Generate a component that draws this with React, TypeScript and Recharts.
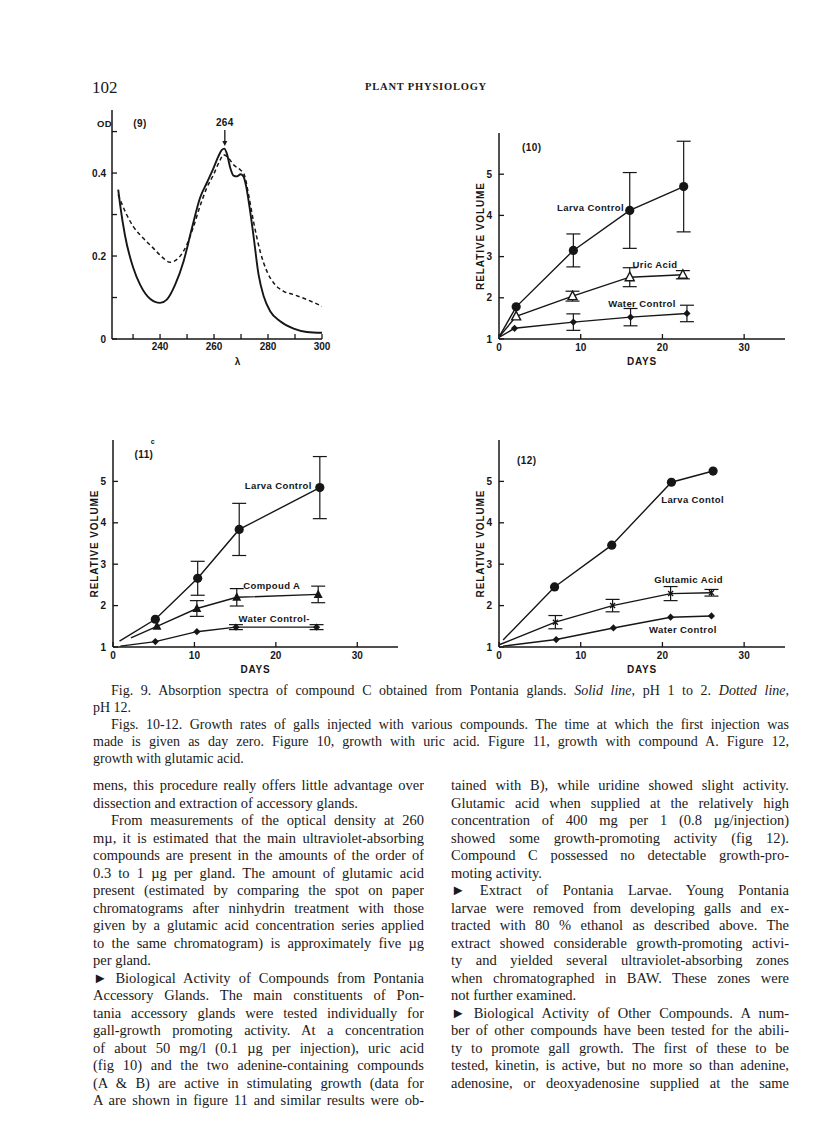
import React from "react";
import { LineChart, Line, XAxis, YAxis, ErrorBar, ReferenceDot, Label } from "recharts";

const INK = "#161616";
const SANS = "'Liberation Sans', Arial, sans-serif";
const SERIF = "'Liberation Serif', 'Times New Roman', serif";

// ---- Fig. 9: absorption spectra (wavelength, optical density)
const lambdaSolid = [224.5, 225.2, 227, 230.1, 232.6, 236.3, 240, 242.5, 245.6, 248.7, 251.8, 254.8, 257.3, 259.8, 261.6, 262.9, 263.8, 264.7, 266, 267.2, 268.5, 269.9, 270.9, 271.9, 273.2, 274.6, 276.5, 278.4, 280.8, 284.5, 289.5, 294.4, 300];
const odSolid = [0.36, 0.324, 0.25, 0.171, 0.131, 0.097, 0.087, 0.095, 0.131, 0.187, 0.267, 0.34, 0.376, 0.412, 0.44, 0.456, 0.459, 0.448, 0.413, 0.394, 0.392, 0.397, 0.392, 0.368, 0.316, 0.25, 0.155, 0.103, 0.067, 0.043, 0.025, 0.017, 0.015];
const lambdaDotted = [224.5, 227.6, 230.1, 233.8, 237.5, 241.2, 243.7, 246.8, 249.9, 252.4, 254.8, 257.3, 259.8, 262.3, 263.5, 265.4, 267.2, 269.7, 271.2, 272.8, 274.6, 277.1, 279.6, 282.1, 285.8, 289.5, 294.4, 300];
const odDotted = [0.348, 0.3, 0.271, 0.243, 0.219, 0.195, 0.185, 0.195, 0.227, 0.271, 0.32, 0.364, 0.396, 0.432, 0.444, 0.436, 0.42, 0.408, 0.396, 0.348, 0.284, 0.211, 0.163, 0.135, 0.115, 0.107, 0.095, 0.079];
const lambdaTicks = [230, 240, 250, 260, 270, 280, 290, 300];
const odTicks = [0, 0.1, 0.2, 0.3, 0.4, 0.5];
const peakLambda = 264;

// ---- Fig. 10: uric acid
const f10LarvaDays = [0.1, 2.1, 9.1, 16.0, 22.6];
const f10LarvaVol = [1.08, 1.78, 3.15, 4.12, 4.7];
const f10LarvaErr = [null, null, 0.4, 0.92, 1.1];
const f10UricDays = [0.1, 2.1, 9.0, 16.0, 22.5];
const f10UricVol = [1.07, 1.55, 2.04, 2.5, 2.56];
const f10UricErr = [null, null, 0.12, 0.23, 0.1];
const f10WaterDays = [0.1, 1.9, 9.1, 16.1, 23.0];
const f10WaterVol = [1.05, 1.26, 1.41, 1.53, 1.62];
const f10WaterErr = [null, null, 0.2, 0.21, 0.2];

// ---- Fig. 11: compound A
const f11LarvaDays = [0.8, 5.2, 10.4, 15.5, 25.4];
const f11LarvaVol = [1.14, 1.67, 2.66, 3.84, 4.85];
const f11LarvaErr = [null, null, 0.41, 0.63, 0.75];
const f11CompDays = [2.2, 5.4, 10.3, 15.2, 25.2];
const f11CompVol = [1.22, 1.5, 1.93, 2.2, 2.27];
const f11CompErr = [null, null, 0.19, 0.21, 0.2];
const f11WaterDays = [0.9, 5.2, 10.3, 15.1, 25.0];
const f11WaterVol = [1.02, 1.13, 1.37, 1.48, 1.48];
const f11WaterErr = [null, null, null, 0.06, 0.06];

// ---- Fig. 12: glutamic acid
const f12LarvaDays = [0.5, 6.8, 13.8, 21.1, 26.2];
const f12LarvaVol = [1.17, 2.45, 3.46, 4.98, 5.25];
const f12GlutDays = [0.1, 6.9, 13.9, 21.0, 26.0];
const f12GlutVol = [1.06, 1.6, 2.0, 2.29, 2.31];
const f12GlutErr = [null, 0.16, 0.15, 0.17, 0.08];
const f12WaterDays = [0.5, 7.0, 14.0, 21.0, 26.0];
const f12WaterVol = [1.02, 1.18, 1.46, 1.72, 1.75];

const dayTicks = [0, 10, 20, 30];
const volTicks = [1, 2, 3, 4, 5];

// ---- page text
const captionLines = [
  "pH 12.",
  "Figs. 10-12. Growth rates of galls injected with various compounds. The time at which the first injection was",
  "made is given as day zero. Figure 10, growth with uric acid. Figure 11, growth with compound A. Figure 12,",
  "growth with glutamic acid.",
];

// k: "j" justified, "e" end of paragraph, "p" indented paragraph start
const leftLines = [
  { t: "mens, this procedure really offers little advantage over", k: "j" },
  { t: "dissection and extraction of accessory glands.", k: "e" },
  { t: "From measurements of the optical density at 260", k: "p" },
  { t: "m\u00b5, it is estimated that the main ultraviolet-absorbing", k: "j" },
  { t: "compounds are present in the amounts of the order of", k: "j" },
  { t: "0.3 to 1 \u00b5g per gland.  The amount of glutamic acid", k: "j" },
  { t: "present (estimated by comparing the spot on paper", k: "j" },
  { t: "chromatograms after ninhydrin treatment with those", k: "j" },
  { t: "given by a glutamic acid concentration series applied", k: "j" },
  { t: "to the same chromatogram) is approximately five \u00b5g", k: "j" },
  { t: "per gland.", k: "e" },
  { t: "\u25ba Biological Activity of Compounds from Pontania", k: "j" },
  { t: "Accessory Glands.  The main constituents of Pon-", k: "j" },
  { t: "tania accessory glands were tested individually for", k: "j" },
  { t: "gall-growth promoting activity.  At a concentration", k: "j" },
  { t: "of about 50 mg/l (0.1 \u00b5g per injection), uric acid", k: "j" },
  { t: "(fig 10) and the two adenine-containing compounds", k: "j" },
  { t: "(A & B) are active in stimulating growth (data for", k: "j" },
  { t: "A are shown in figure 11 and similar results were ob-", k: "j" },
];

const rightLines = [
  { t: "tained with B), while uridine showed slight activity.", k: "j" },
  { t: "Glutamic acid when supplied at the relatively high", k: "j" },
  { t: "concentration of 400 mg per 1 (0.8 \u00b5g/injection)", k: "j" },
  { t: "showed some growth-promoting activity (fig 12).", k: "j" },
  { t: "Compound C possessed no detectable growth-pro-", k: "j" },
  { t: "moting activity.", k: "e" },
  { t: "\u25ba Extract of Pontania Larvae.  Young Pontania", k: "j" },
  { t: "larvae were removed from developing galls and ex-", k: "j" },
  { t: "tracted with 80 % ethanol as described above.  The", k: "j" },
  { t: "extract showed considerable growth-promoting activi-", k: "j" },
  { t: "ty and yielded several ultraviolet-absorbing zones", k: "j" },
  { t: "when chromatographed in BAW.  These zones were", k: "j" },
  { t: "not further examined.", k: "e" },
  { t: "\u25ba Biological Activity of Other Compounds.  A num-", k: "j" },
  { t: "ber of other compounds have been tested for the abili-", k: "j" },
  { t: "ty to promote gall growth.  The first of these to be", k: "j" },
  { t: "tested, kinetin, is active, but no more so than adenine,", k: "j" },
  { t: "adenosine, or deoxyadenosine supplied at the same", k: "j" },
];

type Pt = { x: number; y: number; e: number | null };
const rows = (xs: number[], ys: number[], es?: (number | null)[]): Pt[] =>
  xs.map((x, i) => ({ x, y: ys[i], e: es ? es[i] : null }));

type Shape = "disc" | "tri" | "triFill" | "diamond" | "cross";
type Rect = { l: number; t: number; w: number; h: number };
type Plot = { l: number; t: number; r: number; b: number };

const YW = 40;
const XH = 30;
const marginOf = (w: Rect, p: Plot) => ({
  left: p.l - w.l - YW,
  top: p.t - w.t,
  right: w.l + w.w - p.r,
  bottom: w.t + w.h - p.b - XH,
});

const drawMarker = (shape: Shape, cx: number, cy: number, key: string) => {
  switch (shape) {
    case "disc":
      return <circle key={key} cx={cx} cy={cy} r={4.6} fill={INK} />;
    case "tri":
      return (
        <path key={key} d={`M${cx},${cy - 5}L${cx + 4.5},${cy + 3.5}L${cx - 4.5},${cy + 3.5}Z`}
          fill="#fff" stroke={INK} strokeWidth={1.4} />
      );
    case "triFill":
      return <path key={key} d={`M${cx},${cy - 5}L${cx + 4.5},${cy + 3.5}L${cx - 4.5},${cy + 3.5}Z`} fill={INK} />;
    case "diamond":
      return <path key={key} d={`M${cx},${cy - 3.6}L${cx + 3.6},${cy}L${cx},${cy + 3.6}L${cx - 3.6},${cy}Z`} fill={INK} />;
    default:
      return (
        <path key={key} d={`M${cx - 2.5},${cy - 2.5}L${cx + 2.5},${cy + 2.5}M${cx + 2.5},${cy - 2.5}L${cx - 2.5},${cy + 2.5}`}
          stroke={INK} strokeWidth={1.4} />
      );
  }
};

const dotFor = (shape: Shape) => (p: any) => {
  const key = `m-${shape}-${p.index}`;
  if (p.index === 0 || p.cx == null) return <g key={key} />;
  return drawMarker(shape, p.cx, p.cy, key);
};

const noteText = {
  fontFamily: SANS,
  fontWeight: 700,
  fill: INK,
  letterSpacing: 0.4,
} as const;

const note = (x: number, y: number, text: string, size = 9.5, anchor: "start" | "middle" | "end" = "middle") => (
  <ReferenceDot
    key={`n-${text}-${x}`}
    x={x}
    y={y}
    r={0}
    ifOverflow="visible"
    shape={(p: any) => (
      <text x={p.cx} y={p.cy} textAnchor={anchor} dominantBaseline="central" fontSize={size} {...noteText}>
        {text}
      </text>
    )}
  />
);

const tickStyle = { fontSize: 10, fontFamily: SANS, fontWeight: 700, fill: INK };
const axisLine = { stroke: INK, strokeWidth: 1.5 };
const tickLine = { stroke: INK, strokeWidth: 1.3 };

const yTitle = (text: string) => (props: any) => {
  const vb = props.viewBox;
  const x = vb.x + vb.width - 19;
  const y = vb.y + vb.height / 2;
  return (
    <text x={x} y={y} transform={`rotate(-90 ${x} ${y})`} textAnchor="middle" dominantBaseline="central"
      fontSize={10} {...noteText} letterSpacing={0.9}>
      {text}
    </text>
  );
};

const xTitle = (text: string, at = 0.5) => (props: any) => {
  const vb = props.viewBox;
  return (
    <text x={vb.x + vb.width * at} y={vb.y + 22} textAnchor="middle" dominantBaseline="central"
      fontSize={10} {...noteText} letterSpacing={0.8}>
      {text}
    </text>
  );
};

type Series = { data: Pt[]; shape: Shape; bars?: boolean };

function GrowthChart({ wrap, plot, series, notes }: { wrap: Rect; plot: Plot; series: Series[]; notes: React.ReactNode[] }) {
  return (
    <div style={{ position: "absolute", left: wrap.l, top: wrap.t }}>
      <LineChart width={wrap.w} height={wrap.h} margin={marginOf(wrap, plot)}>
        <XAxis type="number" dataKey="x" domain={[0, 35]} ticks={dayTicks} allowDataOverflow height={XH}
          axisLine={axisLine} tickLine={tickLine} tickSize={-5} tickMargin={10} tick={tickStyle}>
          <Label content={xTitle("DAYS")} />
        </XAxis>
        <YAxis type="number" dataKey="y" domain={[1, 6]} ticks={volTicks} allowDataOverflow width={YW}
          axisLine={axisLine} tickLine={tickLine} tickSize={-5} tickMargin={12} tick={tickStyle}>
          <Label content={yTitle("RELATIVE VOLUME")} />
        </YAxis>
        {series.map((s, i) => (
          <Line key={i} data={s.data} dataKey="y" type="linear" stroke={INK} strokeWidth={1.4}
            dot={dotFor(s.shape)} activeDot={false} isAnimationActive={false}>
            {s.bars ? <ErrorBar dataKey="e" width={7} stroke={INK} strokeWidth={1.2} direction="y" /> : null}
          </Line>
        ))}
        {notes}
      </LineChart>
    </div>
  );
}

function SpectrumChart() {
  const wrap: Rect = { l: 55, t: 95, w: 290, h: 290 };
  const plot: Plot = { l: 112, t: 110, r: 322, b: 339 };
  const near = (a: number, b: number) => Math.abs(a - b) < 1e-6;
  return (
    <div style={{ position: "absolute", left: wrap.l, top: wrap.t }}>
      <LineChart width={wrap.w} height={wrap.h} margin={marginOf(wrap, plot)}>
        <XAxis type="number" dataKey="x" domain={[222.2, 300]} ticks={lambdaTicks} allowDataOverflow height={XH}
          axisLine={axisLine} tickLine={tickLine} tickSize={-5} tickMargin={9} tick={tickStyle}
          tickFormatter={(v: number) => (v % 20 === 0 ? String(v) : "")}>
          <Label content={xTitle("\u03bb", 0.6)} />
        </XAxis>
        <YAxis type="number" dataKey="y" domain={[0, 0.552]} ticks={odTicks} allowDataOverflow width={YW}
          axisLine={axisLine} tickLine={tickLine} tickSize={-5} tickMargin={11} tick={tickStyle}
          tickFormatter={(v: number) => (near(v, 0) ? "0" : near(v, 0.2) ? "0.2" : near(v, 0.4) ? "0.4" : "")} />
        <Line data={rows(lambdaDotted, odDotted)} dataKey="y" type="monotone" stroke={INK} strokeWidth={1.5}
          strokeDasharray="4 3" dot={false} activeDot={false} isAnimationActive={false} />
        <Line data={rows(lambdaSolid, odSolid)} dataKey="y" type="monotone" stroke={INK} strokeWidth={1.9}
          dot={false} activeDot={false} isAnimationActive={false} />
        {note(222.2, 0.52, "OD", 9.5, "end")}
        {note(232.6, 0.52, "(9)", 10)}
        <ReferenceDot
          x={peakLambda}
          y={0.463}
          r={0}
          ifOverflow="visible"
          shape={(p: any) => (
            <g>
              <line x1={p.cx} y1={p.cy - 17} x2={p.cx} y2={p.cy - 4} stroke={INK} strokeWidth={1.3} />
              <path d={`M${p.cx - 2.5},${p.cy - 6}L${p.cx + 2.5},${p.cy - 6}L${p.cx},${p.cy - 1}Z`} fill={INK} />
              <text x={p.cx} y={p.cy - 24} textAnchor="middle" dominantBaseline="central" fontSize={10} {...noteText}>
                {String(peakLambda)}
              </text>
            </g>
          )}
        />
      </LineChart>
    </div>
  );
}

function TextColumn({ lines, left, width, top, lh }: { lines: { t: string; k: string }[]; left: number; width: number; top: number; lh: number }) {
  return (
    <div style={{ position: "absolute", left, top, width, fontFamily: SERIF, fontSize: 14.5, color: "#1a1a1a" }}>
      {lines.map((ln, i) => (
        <div key={i} style={{
          height: lh, lineHeight: `${lh}px`, overflow: "hidden",
          textAlign: ln.k === "e" ? "left" : "justify",
          textAlignLast: ln.k === "e" ? "left" : "justify",
          paddingLeft: ln.k === "p" ? 18 : 0,
        }}>
          {ln.t}
        </div>
      ))}
    </div>
  );
}

export default function App() {
  const capLh = 17;
  const capStyle = (i: number, indent: boolean, last: boolean): React.CSSProperties => ({
    position: "absolute", left: 93 + (indent ? 18 : 0), top: 690 - capLh / 2 + i * capLh, width: 696 - (indent ? 18 : 0),
    height: capLh, lineHeight: `${capLh}px`, overflow: "hidden",
    textAlign: last ? "left" : "justify", textAlignLast: last ? "left" : "justify",
  });
  return (
    <div style={{ position: "absolute", left: 0, top: 0, width: 816, height: 1121, background: "#fff", overflow: "hidden", color: "#1a1a1a" }}>
      <div style={{ position: "absolute", left: 92, top: 78, fontFamily: SERIF, fontSize: 17 }}>102</div>
      <div style={{ position: "absolute", left: 365, top: 81, fontFamily: SERIF, fontSize: 10.5, fontWeight: 700, letterSpacing: 0.8 }}>
        PLANT PHYSIOLOGY
      </div>

      <SpectrumChart />

      <GrowthChart
        wrap={{ l: 440, t: 118, w: 360, h: 260 }}
        plot={{ l: 499, t: 133, r: 785, b: 339 }}
        series={[
          { data: rows(f10LarvaDays, f10LarvaVol, f10LarvaErr), shape: "disc", bars: true },
          { data: rows(f10UricDays, f10UricVol, f10UricErr), shape: "tri", bars: true },
          { data: rows(f10WaterDays, f10WaterVol, f10WaterErr), shape: "diamond", bars: true },
        ]}
        notes={[
          note(4.0, 5.66, "(10)", 10),
          note(11.2, 4.2, "Larva Control"),
          note(19.1, 2.8, "Uric Acid"),
          note(17.5, 1.87, "Water Control"),
        ]}
      />

      <GrowthChart
        wrap={{ l: 55, t: 425, w: 360, h: 260 }}
        plot={{ l: 113, t: 440, r: 398, b: 647 }}
        series={[
          { data: rows(f11LarvaDays, f11LarvaVol, f11LarvaErr), shape: "disc", bars: true },
          { data: rows(f11CompDays, f11CompVol, f11CompErr), shape: "triFill", bars: true },
          { data: rows(f11WaterDays, f11WaterVol, f11WaterErr), shape: "diamond", bars: true },
        ]}
        notes={[
          note(3.8, 5.64, "(11)", 10),
          note(4.9, 5.97, "c", 7),
          note(20.3, 4.89, "Larva Control"),
          note(19.5, 2.48, "Compoud  A"),
          note(19.8, 1.7, "Water Control-"),
        ]}
      />

      <GrowthChart
        wrap={{ l: 440, t: 425, w: 360, h: 260 }}
        plot={{ l: 499, t: 440, r: 785, b: 647 }}
        series={[
          { data: rows(f12LarvaDays, f12LarvaVol), shape: "disc" },
          { data: rows(f12GlutDays, f12GlutVol, f12GlutErr), shape: "cross", bars: true },
          { data: rows(f12WaterDays, f12WaterVol), shape: "diamond" },
        ]}
        notes={[
          note(3.4, 5.5, "(12)", 10),
          note(23.7, 4.57, "Larva Contol"),
          note(23.2, 2.64, "Glutamic Acid"),
          note(22.5, 1.43, "Water Control"),
        ]}
      />

      <div style={{ fontFamily: SERIF, fontSize: 14 }}>
        <div style={capStyle(0, true, false)}>
          Fig. 9. Absorption spectra of compound C obtained from Pontania glands. <i>Solid line,</i> pH 1 to 2. <i>Dotted line,</i>
        </div>
        <div style={capStyle(1, false, true)}>{captionLines[0]}</div>
        <div style={capStyle(2, true, false)}>{captionLines[1]}</div>
        <div style={capStyle(3, false, false)}>{captionLines[2]}</div>
        <div style={capStyle(4, false, true)}>{captionLines[3]}</div>
      </div>

      <TextColumn lines={leftLines} left={93} width={331} top={786 - 8.75} lh={17.5} />
      <TextColumn lines={rightLines} left={451} width={338} top={786 - 8.75} lh={17.5} />
    </div>
  );
}
